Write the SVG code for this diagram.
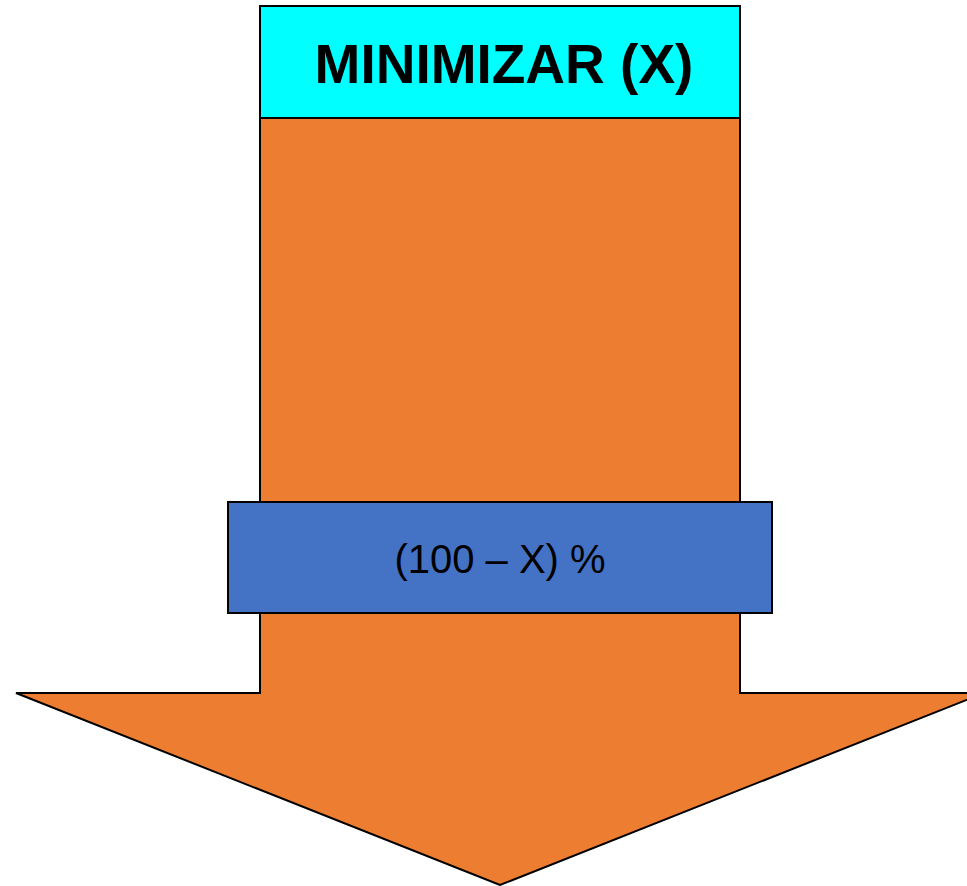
<svg xmlns="http://www.w3.org/2000/svg" width="967" height="886" viewBox="0 0 967 886">
  <style>
    .shape { stroke: #000; stroke-width: 2; stroke-linejoin: miter; }
    .title { font-family: "Liberation Sans", Arial, sans-serif; font-weight: bold; font-size: 55px; fill: #000; text-anchor: middle; }
    .label { font-family: "Liberation Sans", Arial, sans-serif; font-size: 40px; fill: #000; text-anchor: middle; }
  </style>
  <rect width="967" height="886" fill="#fff"/>
  <g id="arrow">
    <polygon class="shape" fill="#ED7D31" points="260,118 740,118 740,693 984,693 500,885 16,693 260,693"/>
  </g>
  <g id="title-box">
    <rect class="shape" x="260" y="6" width="480" height="112" fill="#00FFFF"/>
    <text class="title" x="504" y="83">MINIMIZAR (X)</text>
  </g>
  <g id="percent-box">
    <rect class="shape" x="228" y="502" width="544" height="111" fill="#4472C4"/>
    <text class="label" x="500" y="573">(100 – X) %</text>
  </g>
  <g id="connectors"></g>
</svg>
